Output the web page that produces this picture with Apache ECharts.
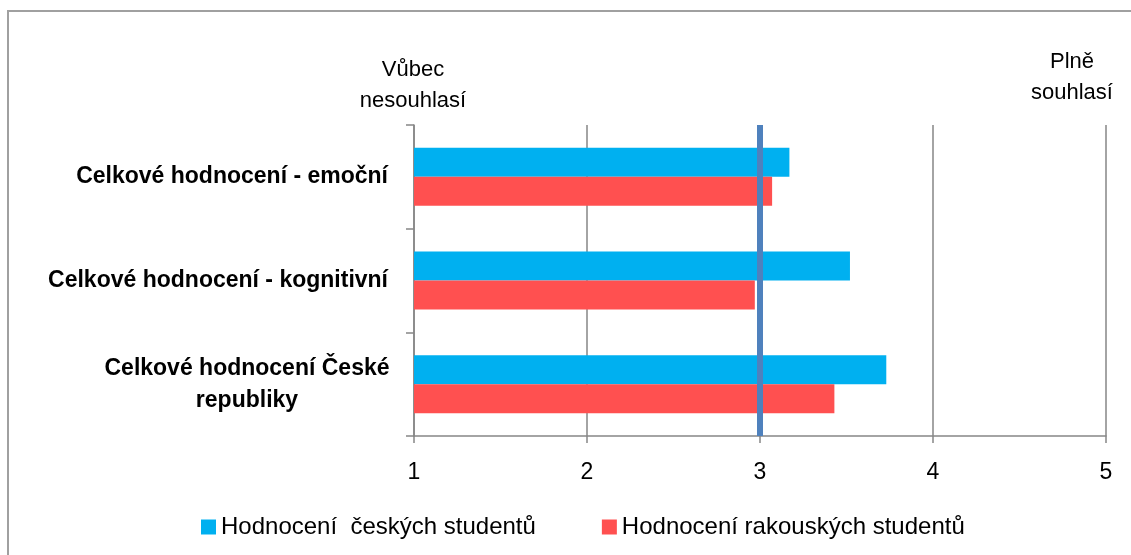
<!DOCTYPE html>
<html>
<head>
<meta charset="utf-8">
<script src="https://cdn.jsdelivr.net/npm/echarts@6/dist/echarts.min.js"></script>
<style>
  html, body { margin: 0; padding: 0; background: #fff; }
  #chart { width: 1131px; height: 555px; }
</style>
</head>
<body>
<div id="chart"></div>
<script>
  const categories = [
    'Celkové hodnocení - emoční',
    'Celkové hodnocení - kognitivní',
    'Celkové hodnocení České\nrepubliky'
  ]
  const seriesNames = ['Hodnocení  českých studentů', 'Hodnocení rakouských studentů']
  const czechValues = [3.17, 3.52, 3.73]
  const austrianValues = [3.07, 2.97, 3.43]
  const referenceValue = 3
  const scaleLow = 'Vůbec\nnesouhlasí'
  const scaleHigh = 'Plně\nsouhlasí'

  const font = '"Liberation Sans", Arial, sans-serif'
  const gridColor = '#868686'

  const chart = echarts.init(document.getElementById('chart'))

  chart.setOption({
    animation: false,
    textStyle: { fontFamily: font },
    grid: {
      left: 414,
      right: 25,
      top: 125,
      bottom: 119
    },
    legend: {
      left: 196,
      top: 510,
      itemWidth: 15,
      itemHeight: 15,
      itemGap: 66,
      icon: 'rect',
      textStyle: {
        color: '#000',
        fontSize: 24,
        fontFamily: font
      },
      data: seriesNames
    },
    graphic: [
      {
        type: 'rect',
        silent: true,
        shape: { x: 8, y: 11, width: 1140, height: 560 },
        style: { fill: 'none', stroke: '#a0a0a0', lineWidth: 2 }
      },
      {
        type: 'text',
        x: 413,
        y: 54,
        style: {
          text: scaleLow,
          textAlign: 'center',
          fontSize: 22,
          lineHeight: 31,
          fontFamily: font,
          fill: '#000'
        }
      },
      {
        type: 'text',
        x: 1072,
        y: 46,
        style: {
          text: scaleHigh,
          textAlign: 'center',
          fontSize: 22,
          lineHeight: 31,
          fontFamily: font,
          fill: '#000'
        }
      }
    ],
    xAxis: {
      type: 'value',
      min: 1,
      max: 5,
      interval: 1,
      axisLine: { show: true, lineStyle: { color: gridColor, width: 1.5 } },
      axisTick: { show: true, length: 7, lineStyle: { color: gridColor, width: 1.5 } },
      splitLine: { show: true, lineStyle: { color: gridColor, width: 1.5 } },
      axisLabel: {
        color: '#000',
        fontSize: 23,
        margin: 25,
        fontFamily: font
      }
    },
    yAxis: {
      type: 'category',
      inverse: true,
      data: categories,
      axisLine: { show: true, lineStyle: { color: gridColor, width: 1.5 } },
      axisTick: { show: true, length: 8, lineStyle: { color: gridColor, width: 1.5 } },
      axisLabel: {
        margin: 26,
        color: '#000',
        fontSize: 23,
        fontWeight: 'bold',
        fontFamily: font,
        lineHeight: 32,
        formatter: function (value) {
          if (value.indexOf('\n') < 0) return value
          return value.split('\n').map(line => '{c|' + line + '}').join('\n')
        },
        rich: {
          c: {
            width: 282,
            align: 'center',
            fontSize: 23,
            fontWeight: 'bold',
            fontFamily: font,
            color: '#000',
            lineHeight: 32
          }
        }
      }
    },
    series: [
      {
        name: seriesNames[0],
        type: 'bar',
        data: czechValues,
        barWidth: 29,
        barGap: '0%',
        itemStyle: { color: '#00b0f0' },
        markLine: {
          silent: true,
          symbol: 'none',
          label: { show: false },
          lineStyle: { color: '#4f81bd', width: 6, type: 'solid' },
          data: [{ xAxis: referenceValue }]
        },
        z: 2
      },
      {
        name: seriesNames[1],
        type: 'bar',
        data: austrianValues,
        barWidth: 29,
        barGap: '0%',
        itemStyle: { color: '#ff5050' },
        z: 2
      }
    ]
  })
</script>
</body>
</html>
